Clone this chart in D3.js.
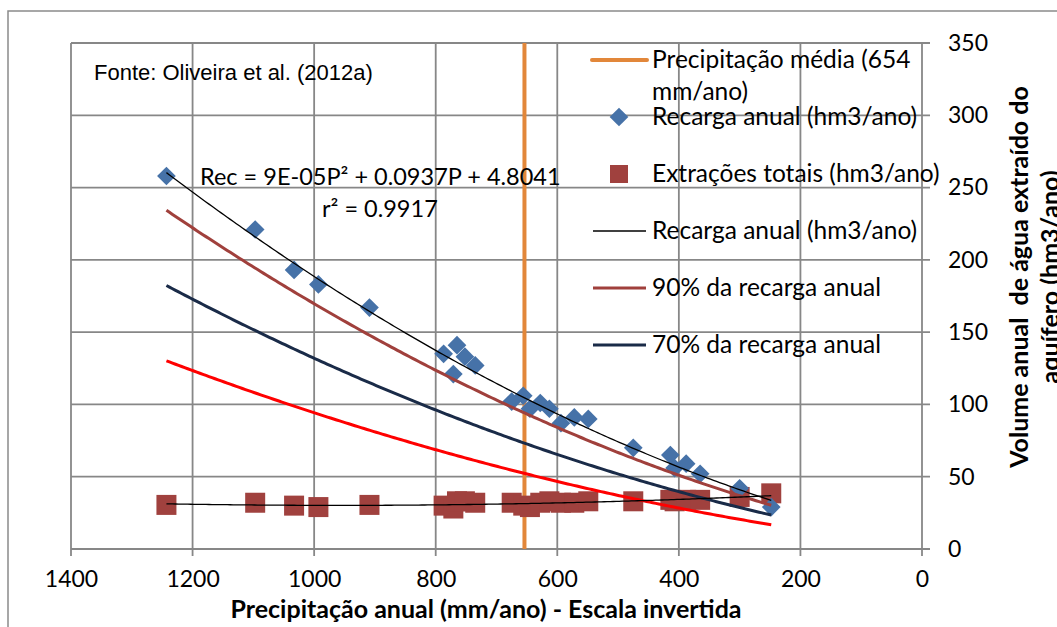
<!DOCTYPE html>
<html>
<head>
<meta charset="utf-8">
<script src="https://cdn.jsdelivr.net/npm/d3@7"></script>
<style>
  body { margin: 0; background: #fff; }
  svg { display: block; }
</style>
</head>
<body>
<div id="chart-area"></div>
<script>
// precipitação anual (mm/ano) de cada ano
var precip = [1243, 1097, 1033, 993, 909, 787, 771, 765, 752, 735, 675, 656, 645, 628, 613, 594, 572, 549, 475, 414, 407, 388, 365, 300, 248];
// recarga anual (hm3/ano)
var recarga = [258, 221, 193, 183, 167, 135, 121, 141, 133, 127, 102, 106, 97, 101, 97, 87, 91, 90, 70, 65, 56, 59, 52, 42, 29];
// extrações totais (hm3/ano)
var extracoes = [30.5, 32, 30, 29, 30.5, 30, 28, 33, 33, 32, 32, 30, 29, 32, 33, 32, 32, 33, 33, 34, 33, 34, 34, 36, 38.5];

var precipMedia = 654;
// Rec = a*P^2 + b*P + c (equação mostrada no gráfico)
var recEq = [9e-5, 0.0937, 4.8041];
var shares = [0.9, 0.7, 0.5];
var shareColors = ['#A0403C', '#1A2B48', '#FF0000'];

var xTicks = [1400, 1200, 1000, 800, 600, 400, 200, 0];
var yTicks = [0, 50, 100, 150, 200, 250, 300, 350];

var legendLabels = [
  ['Precipitação média (654', 'mm/ano)'],
  ['Recarga anual (hm3/ano)'],
  ['Extrações totais (hm3/ano)'],
  ['Recarga anual (hm3/ano)'],
  ['90% da recarga anual'],
  ['70% da recarga anual']
];

var margin = { top: 43, left: 71, bottom: 78, right: 135 };
var width = 1057 - margin.left - margin.right;
var height = 627 - margin.top - margin.bottom;
var calibri = 'Lato, "Open Sans", sans-serif';
var gridColor = '#878787';

var svg = d3.select('#chart-area').append('svg')
    .attr('width', 1057)
    .attr('height', 627);

// chart border
svg.append('rect')
    .attr('x', 8).attr('y', 11)
    .attr('width', 1200).attr('height', 800)
    .attr('fill', 'none').attr('stroke', '#8a8a8a').attr('stroke-width', 1.5);

var g = svg.append('g').attr('transform', `translate(${margin.left}, ${margin.top})`);

var x = d3.scaleLinear().domain([1400, 0]).range([0, width]);
var y = d3.scaleLinear().domain([0, 350]).range([height, 0]);

// gridlines
g.selectAll('.hgrid').data(yTicks).enter().append('line')
    .attr('class', 'hgrid')
    .attr('x1', 0).attr('x2', width + 8)
    .attr('y1', d => y(d)).attr('y2', d => y(d))
    .attr('stroke', gridColor).attr('stroke-width', 1.8);

g.selectAll('.vgrid').data(xTicks).enter().append('line')
    .attr('class', 'vgrid')
    .attr('x1', d => x(d)).attr('x2', d => x(d))
    .attr('y1', 0).attr('y2', height + 7)
    .attr('stroke', gridColor).attr('stroke-width', 1.8);

// axes (labels only, lines come from the grid)
var xAxisGroup = g.append('g').attr('transform', `translate(0, ${height})`)
    .call(d3.axisBottom(x).tickValues(xTicks).tickFormat(d3.format('d')).tickSize(0).tickPadding(22));
var yAxisGroup = g.append('g').attr('transform', `translate(${width}, 0)`)
    .call(d3.axisRight(y).tickValues(yTicks).tickFormat(d3.format('d')).tickSize(0).tickPadding(26));
[xAxisGroup, yAxisGroup].forEach(ax => {
  ax.select('.domain').remove();
  ax.selectAll('text').attr('font-family', calibri).attr('font-size', '23px').attr('fill', '#000');
});
yAxisGroup.selectAll('text').attr('text-anchor', 'start');

// precipitação média
g.append('line')
    .attr('x1', x(precipMedia)).attr('x2', x(precipMedia))
    .attr('y1', y(350)).attr('y2', y(0))
    .attr('stroke', '#E2873A').attr('stroke-width', 4);

// markers
g.selectAll('.ext').data(precip).enter().append('rect')
    .attr('class', 'ext')
    .attr('x', (d, i) => x(d) - 10).attr('y', (d, i) => y(extracoes[i]) - 10)
    .attr('width', 20).attr('height', 20)
    .attr('fill', '#A0413E');

g.selectAll('.rec').data(precip).enter().append('path')
    .attr('class', 'rec')
    .attr('d', d3.symbol().type(d3.symbolSquare).size(175))
    .attr('transform', (d, i) => `translate(${x(d)}, ${y(recarga[i])}) rotate(45)`)
    .attr('fill', '#4672A8');

// trend lines
var pMin = d3.min(precip), pMax = d3.max(precip);
var pSteps = d3.range(pMin, pMax, 5).concat([pMax]);
var recFn = p => recEq[0] * p * p + recEq[1] * p + recEq[2];

function polyfit2(xs, ys) {
  var s = [0, 0, 0, 0, 0], t = [0, 0, 0];
  xs.forEach((xv, i) => {
    for (var k = 0; k < 5; k++) s[k] += Math.pow(xv, k);
    for (var k = 0; k < 3; k++) t[k] += ys[i] * Math.pow(xv, k);
  });
  var m = [[s[0], s[1], s[2], t[0]], [s[1], s[2], s[3], t[1]], [s[2], s[3], s[4], t[2]]];
  for (var c = 0; c < 3; c++) {
    for (var r = c + 1; r < 3; r++) {
      var f = m[r][c] / m[c][c];
      for (var k = c; k < 4; k++) m[r][k] -= f * m[c][k];
    }
  }
  var sol = [0, 0, 0];
  for (var r = 2; r >= 0; r--) {
    var v = m[r][3];
    for (var k = r + 1; k < 3; k++) v -= m[r][k] * sol[k];
    sol[r] = v / m[r][r];
  }
  return p => sol[0] + sol[1] * p + sol[2] * p * p;
}
var extFn = polyfit2(precip, extracoes);

var line = d3.line().x(d => x(d[0])).y(d => y(d[1]));

shares.forEach((s, i) => {
  g.append('path')
      .attr('d', line(pSteps.map(p => [p, s * recFn(p)])))
      .attr('fill', 'none').attr('stroke', shareColors[i]).attr('stroke-width', 3);
});
g.append('path')
    .attr('d', line(pSteps.map(p => [p, recFn(p)])))
    .attr('fill', 'none').attr('stroke', '#000').attr('stroke-width', 1.3);
g.append('path')
    .attr('d', line(pSteps.map(p => [p, extFn(p)])))
    .attr('fill', 'none').attr('stroke', '#000').attr('stroke-width', 1.3);

// texts
svg.append('text').attr('x', 94).attr('y', 80)
    .attr('font-family', '"Liberation Sans", Arial, sans-serif').attr('font-size', '22px')
    .text('Fonte: Oliveira et al. (2012a)');

svg.append('text').attr('x', 200).attr('y', 185)
    .attr('font-family', calibri).attr('font-size', '23.5px')
    .text('Rec = 9E-05P² + 0.0937P + 4.8041');
svg.append('text').attr('x', 322).attr('y', 217)
    .attr('font-family', calibri).attr('font-size', '23.5px')
    .text('r² = 0.9917');

// legend
var legendY = [60, 117, 174, 231, 288, 345];
var legend = svg.append('g');
legendLabels.forEach((lines, i) => {
  var ly = legendY[i];
  lines.forEach((t, j) => {
    legend.append('text').attr('x', 652).attr('y', ly + 8 + j * 32)
        .attr('font-family', calibri).attr('font-size', '24.5px').text(t);
  });
});
legend.append('line').attr('x1', 592).attr('x2', 647).attr('y1', legendY[0]).attr('y2', legendY[0])
    .attr('stroke', '#E2873A').attr('stroke-width', 4).attr('stroke-linecap', 'round');
legend.append('path').attr('d', d3.symbol().type(d3.symbolSquare).size(175))
    .attr('transform', `translate(619, ${legendY[1]}) rotate(45)`).attr('fill', '#4672A8');
legend.append('rect').attr('x', 610).attr('y', legendY[2] - 9).attr('width', 18).attr('height', 18)
    .attr('fill', '#A0413E');
legend.append('line').attr('x1', 593).attr('x2', 646).attr('y1', legendY[3]).attr('y2', legendY[3])
    .attr('stroke', '#000').attr('stroke-width', 1.3);
legend.append('line').attr('x1', 593).attr('x2', 646).attr('y1', legendY[4]).attr('y2', legendY[4])
    .attr('stroke', shareColors[0]).attr('stroke-width', 3);
legend.append('line').attr('x1', 593).attr('x2', 646).attr('y1', legendY[5]).attr('y2', legendY[5])
    .attr('stroke', shareColors[1]).attr('stroke-width', 3);

// axis titles
svg.append('text').attr('x', 486).attr('y', 618)
    .attr('text-anchor', 'middle').attr('font-family', calibri)
    .attr('font-size', '25px').attr('font-weight', 'bold')
    .text('Precipitação anual (mm/ano) - Escala invertida');

var yTitle = svg.append('text')
    .attr('transform', 'translate(1028, 277) rotate(-90)')
    .attr('text-anchor', 'middle').attr('font-family', calibri)
    .attr('font-size', '25px').attr('font-weight', 'bold');
yTitle.append('tspan').attr('x', 0).attr('y', 0).attr('xml:space', 'preserve').text('Volume anual  de água extraído do');
yTitle.append('tspan').attr('x', 0).attr('y', 31).text('aquífero (hm3/ano)');
</script>
</body>
</html>
